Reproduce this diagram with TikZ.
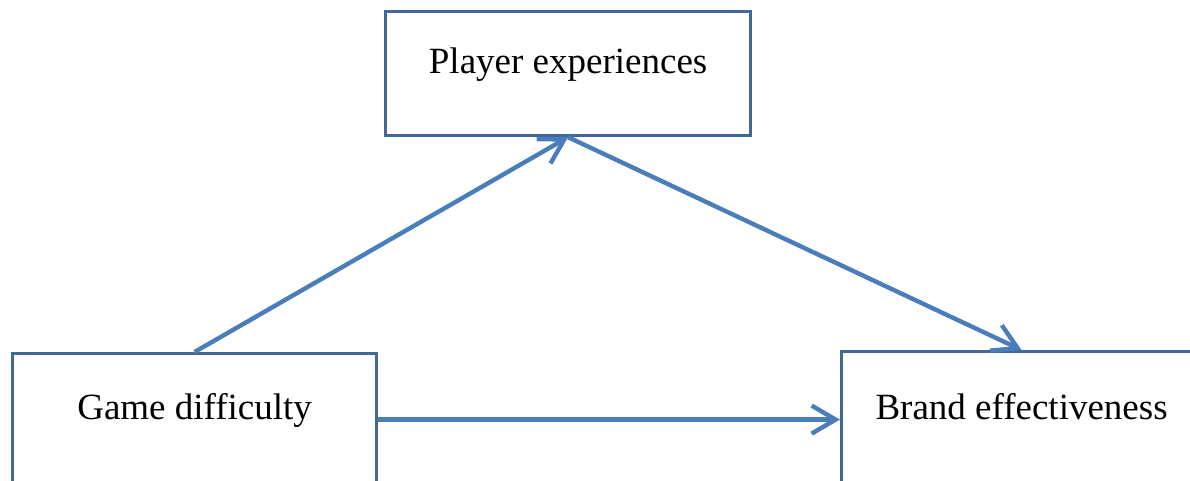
\documentclass[tikz,border=0pt]{standalone}
\usepackage{fontspec}
\setmainfont{Liberation Serif}
\usetikzlibrary{arrows.meta}
\definecolor{boxBlue}{RGB}{65,104,150}
\definecolor{arrowBlue}{RGB}{74,126,187}

\begin{document}
\begin{tikzpicture}[x=0.5pt,y=-0.5pt,
  box/.style={draw=boxBlue, line width=1.6pt, inner sep=0pt, anchor=north west,
    font=\fontsize{18.5}{22}\selectfont},
  link/.style={draw=arrowBlue, line width=2.2pt, -{Straight Barb[length=12pt,width=14pt]}}]
% Frame
\clip (0,0) rectangle (1190,481);

% Boxes
\node[box, text height=31pt, text depth=31pt, minimum width=182.5pt] (pe) at (384,10) {Player experiences};
\node[box, text height=33pt, text depth=70pt, minimum width=182pt] (gd) at (11,352) {Game difficulty};
\node[box, text height=34pt, text depth=70pt, minimum width=180pt] (be) at (840,350) {Brand effectiveness};

% Arrows
\draw[link] (gd.north) -- (pe.south);
\draw[link] (pe.south) -- (be.north);
\draw[link] (gd.base east) -- (be.base west);
\end{tikzpicture}
\end{document}
